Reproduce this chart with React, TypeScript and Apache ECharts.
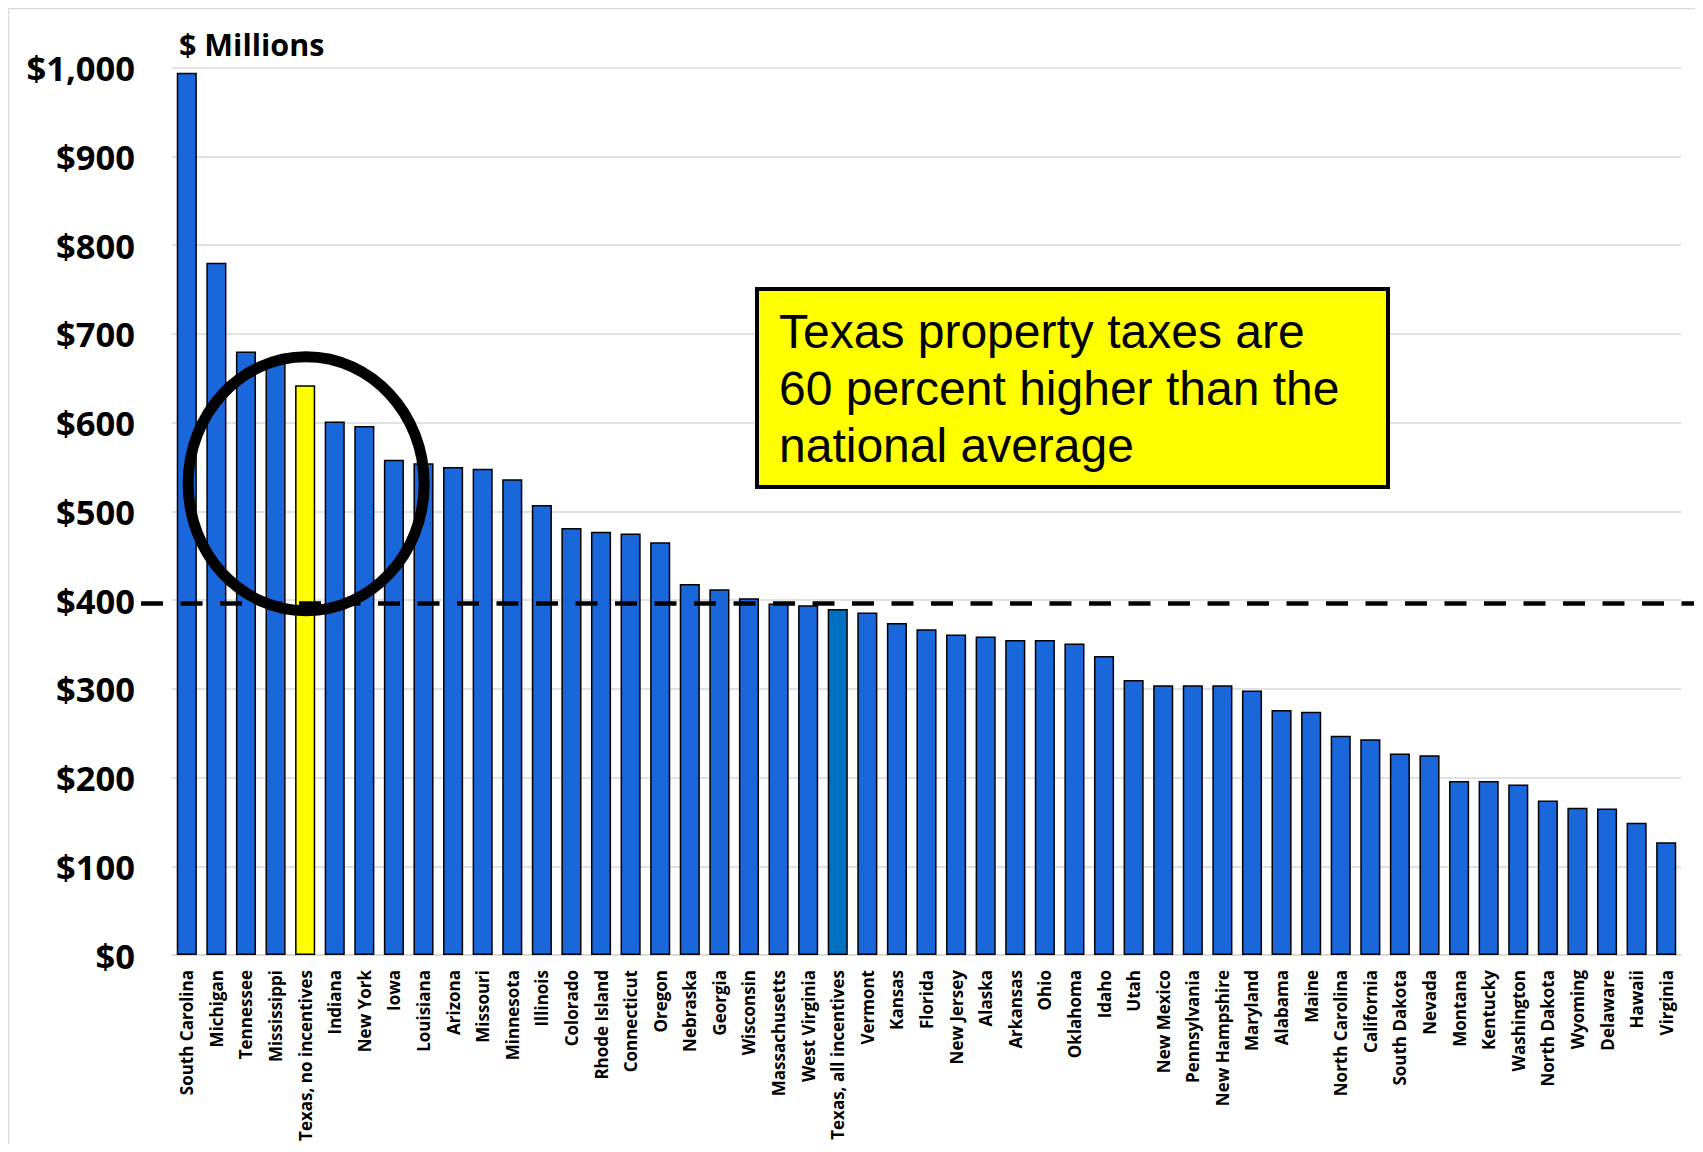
import React, { useEffect, useRef } from "react";
import * as echarts from "echarts";

// Property tax bill per state, $ millions, sorted high to low
const states = [
  "South Carolina", "Michigan", "Tennessee", "Mississippi", "Texas, no incentives",
  "Indiana", "New York", "Iowa", "Louisiana", "Arizona", "Missouri", "Minnesota",
  "Illinois", "Colorado", "Rhode Island", "Connecticut", "Oregon", "Nebraska",
  "Georgia", "Wisconsin", "Massachusetts", "West Virginia", "Texas, all incentives",
  "Vermont", "Kansas", "Florida", "New Jersey", "Alaska", "Arkansas", "Ohio",
  "Oklahoma", "Idaho", "Utah", "New Mexico", "Pennsylvania", "New Hampshire",
  "Maryland", "Alabama", "Maine", "North Carolina", "California", "South Dakota",
  "Nevada", "Montana", "Kentucky", "Washington", "North Dakota", "Wyoming",
  "Delaware", "Hawaii", "Virginia",
];

const taxes = [
  994, 780, 680, 668, 642,
  601, 596, 558, 554, 550, 548, 536,
  507, 481, 477, 475, 465, 418,
  412, 402, 396, 394, 390,
  386, 374, 367, 361, 359, 355, 355,
  351, 337, 310, 304, 304, 304,
  298, 276, 274, 247, 243, 227,
  225, 196, 196, 192, 174, 166,
  165, 149, 127,
];

const nationalAverage = 396;
const yTicks = { min: 0, max: 1000, interval: 100 };
const calloutLines = [
  "Texas property taxes are",
  "60 percent higher than the",
  "national average",
];
const highlighted = "Texas, no incentives";
const allIncentives = "Texas, all incentives";
// centre of the ring drawn round the Texas bar, in data units
const ringCenter = { category: highlighted, value: 531 };

const W = 1687;
const H = 1144;

export default function App() {
  const ref = useRef<HTMLDivElement>(null);

  useEffect(() => {
    if (!ref.current) return;
    const chart = echarts.init(ref.current, null, { renderer: "svg" });

    chart.setOption({
      animation: false,
      backgroundColor: "#ffffff",
      grid: {
        left: 164,
        right: 14,
        top: 59.5,
        bottom: 197,
        containLabel: false,
        outerBoundsMode: "none",
      },
      xAxis: {
        type: "category",
        data: states,
        axisTick: { show: false },
        axisLine: { lineStyle: { color: "#d9d9d9", width: 1.5 } },
        axisLabel: {
          interval: 0,
          rotate: 90,
          margin: 15,
          color: "#000",
          fontFamily: "Open Sans",
          fontWeight: "bold",
          fontSize: 17,
        },
      },
      yAxis: {
        type: "value",
        min: yTicks.min,
        max: yTicks.max,
        interval: yTicks.interval,
        axisLine: { show: false },
        axisTick: { show: false },
        splitLine: { lineStyle: { color: "#d9d9d9", width: 1.5 } },
        axisLabel: {
          margin: 37,
          color: "#000",
          fontFamily: "Open Sans",
          fontWeight: "bold",
          fontSize: 34.5,
          formatter: (v: number) => "$" + v.toLocaleString("en-US"),
        },
      },
      series: [
        {
          type: "bar",
          barWidth: "68%",
          data: taxes.map((v, i) => ({
            value: v,
            itemStyle: {
              color:
                states[i] === highlighted
                  ? "#ffff00"
                  : states[i] === allIncentives
                  ? "#0070c0"
                  : "#1a66db",
            },
          })),
          itemStyle: { borderColor: "#000", borderWidth: 1.5 },
        },
      ],
    });

    const avgY = chart.convertToPixel({ gridIndex: 0 }, [0, nationalAverage])[1];
    const ring = chart.convertToPixel({ gridIndex: 0 }, [
      states.indexOf(ringCenter.category),
      ringCenter.value,
    ]);

    chart.setOption({
      graphic: [
        // chart-area frame
        {
          type: "line",
          shape: { x1: 0.5, y1: 0.5, x2: W, y2: 0.5 },
          style: { stroke: "#d9d9d9", lineWidth: 1.5 },
          silent: true,
        },
        {
          type: "line",
          shape: { x1: 0.5, y1: 0.5, x2: 0.5, y2: H },
          style: { stroke: "#d9d9d9", lineWidth: 1.5 },
          silent: true,
        },
        {
          type: "text",
          left: 171,
          top: 20,
          style: {
            text: "$ Millions",
            font: 'bold 30.5px "Open Sans"',
            fill: "#000",
          },
        },
        // national average
        {
          type: "line",
          z: 20,
          shape: { x1: 133, y1: avgY, x2: 1686, y2: avgY },
          style: { stroke: "#000", lineWidth: 4.5, lineDash: [22, 17.5] },
          silent: true,
        },
        {
          type: "ellipse",
          z: 30,
          shape: { cx: ring[0] + 1, cy: ring[1], rx: 118, ry: 127 },
          style: { fill: "none", stroke: "#000", lineWidth: 11 },
          silent: true,
        },
        {
          type: "group",
          z: 40,
          children: [
            {
              type: "rect",
              shape: { x: 749, y: 281, width: 631, height: 198 },
              style: { fill: "#ffff00", stroke: "#000", lineWidth: 4 },
            },
            {
              type: "text",
              x: 771,
              y: 295,
              style: {
                text: calloutLines.join("\n"),
                font: '48px "Liberation Sans"',
                lineHeight: 57,
                fill: "#000",
              },
            },
          ],
        },
      ],
    });

    return () => chart.dispose();
  }, []);

  // the negative bottom margin cancels the body margin so the page does not scroll
  return <div ref={ref} style={{ width: W, height: H, marginBottom: -8 }} />;
}
